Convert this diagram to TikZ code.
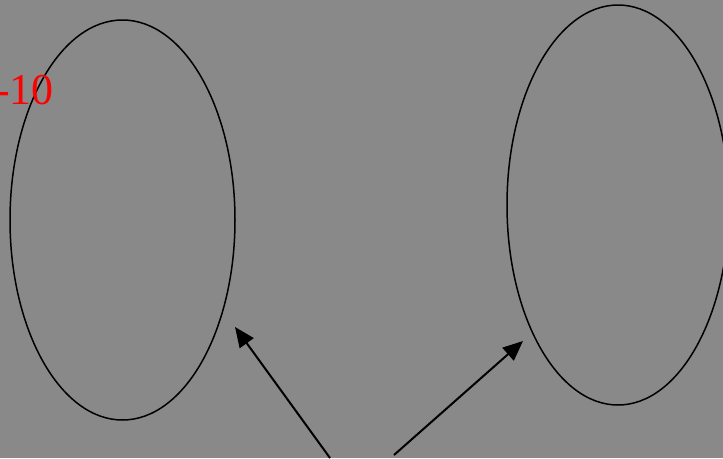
\documentclass[tikz,border=0pt]{standalone}
\usepackage{fontspec}
\setmainfont{Liberation Serif}
\usetikzlibrary{shapes.geometric,arrows.meta}
\definecolor{bg}{HTML}{898989}
\begin{document}
\begin{tikzpicture}[x=1pt,y=-1pt,
  oval/.style={draw=black,line width=1.5pt,ellipse,inner sep=0pt},
  pointer/.style={draw=black,line width=2pt,-{Triangle[length=20pt,width=17pt]}}]
\fill[bg] (0,0) rectangle (723,458);
\useasboundingbox (0,0) rectangle (723,458);
\node[oval,minimum width=225pt,minimum height=400pt] (left) at (122.5,220) {};
\node[oval,minimum width=222pt,minimum height=400pt] (right) at (618,205) {};
\node[anchor=base west,inner sep=0pt,text=red,font=\fontsize{44}{48}\selectfont] (lbl) at (-5,104) {-10};
\coordinate (t1) at (330,458);
\coordinate (h1) at (235,327);
\coordinate (t2) at (394,455);
\coordinate (h2) at (523,341);
\draw[pointer] (t1) -- (h1);
\draw[pointer] (t2) -- (h2);
\end{tikzpicture}
\end{document}
